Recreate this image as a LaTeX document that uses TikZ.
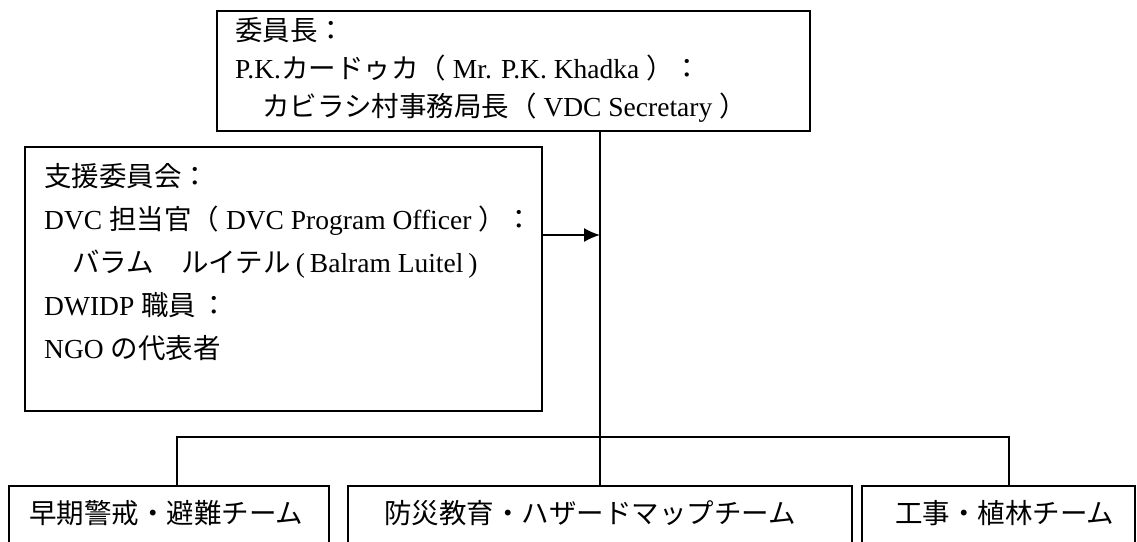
\documentclass[tikz,border=0pt]{standalone}
\usepackage{fontspec}
\setmainfont{Liberation Serif}
\newfontfamily\jp{Noto Sans CJK JP}
\usetikzlibrary{arrows.meta,calc}
\begin{document}
\begin{tikzpicture}[x=1pt,y=-1pt,
  box/.style={draw,rectangle,line width=1.8pt,inner sep=0pt,outer sep=0pt,anchor=north west},
  txt/.style={anchor=base west,inner sep=0pt,font=\fontsize{27.5}{33}\selectfont},
  conn/.style={line width=1.6pt},
  arr/.style={conn,-{Latex[length=16pt,width=14pt]}}]
\useasboundingbox (0,0) rectangle (1137,541);
\clip (0,0) rectangle (1137,541);
% chair box
\node[box,minimum width=593pt,minimum height=120pt] (chair) at (217,11) {};
\node[txt] (c1) at (235,40) {{\jp 委員長：}};
\node[txt] (c2) at (235,78) {P.K.{\jp カードゥカ（} Mr. P.K. Khadka {\jp ）：}};
\node[txt] (c3) at (262,116) {{\jp カビラシ村事務局長（} VDC Secretary {\jp ）}};
% support committee
\node[box,minimum width=517pt,minimum height=264pt] (support) at (25,147) {};
\node[txt] (s1) at (44,186) {{\jp 支援委員会：}};
\node[txt] (s2) at (44,229) {DVC {\jp 担当官（} DVC Program Officer {\jp ）：}};
\node[txt] (s3) at (72,272) {{\jp バラム　ルイテル}\hspace{5pt}(\hspace{5pt}Balram Luitel\hspace{5pt})};
\node[txt] (s4) at (44,315) {DWIDP {\jp 職員}\hspace{4pt}{\jp ：}};
\node[txt] (s5) at (44,358) {NGO {\jp の代表者}};
% teams
\node[box,minimum width=320pt,minimum height=90pt] (t1) at (9,486) {};
\node[box,minimum width=504pt,minimum height=90pt] (t2) at (348,486) {};
\node[box,minimum width=273pt,minimum height=90pt] (t3) at (862,486) {};
\node[txt] (l1) at (29,523) {{\jp 早期警戒・避難チーム}};
\node[txt] (l2) at (384,523) {{\jp 防災教育・ハザードマップチーム}};
\node[txt] (l3) at (895,523) {{\jp 工事・植林チーム}};
% connectors
\coordinate (vtop) at (600,131);
\coordinate (arrS) at ($(support.north east)+(0,88)$);
\coordinate (arrE) at (600,235);
\coordinate (hL) at (177,437);
\coordinate (hR) at (1009,437);
\draw[conn] (vtop) -- (t2.north);
\draw[arr] (arrS) -- (arrE);
\draw[conn] (hL |- t1.north) -- (hL) -- (hR) -- (hR |- t3.north);
\end{tikzpicture}
\end{document}
